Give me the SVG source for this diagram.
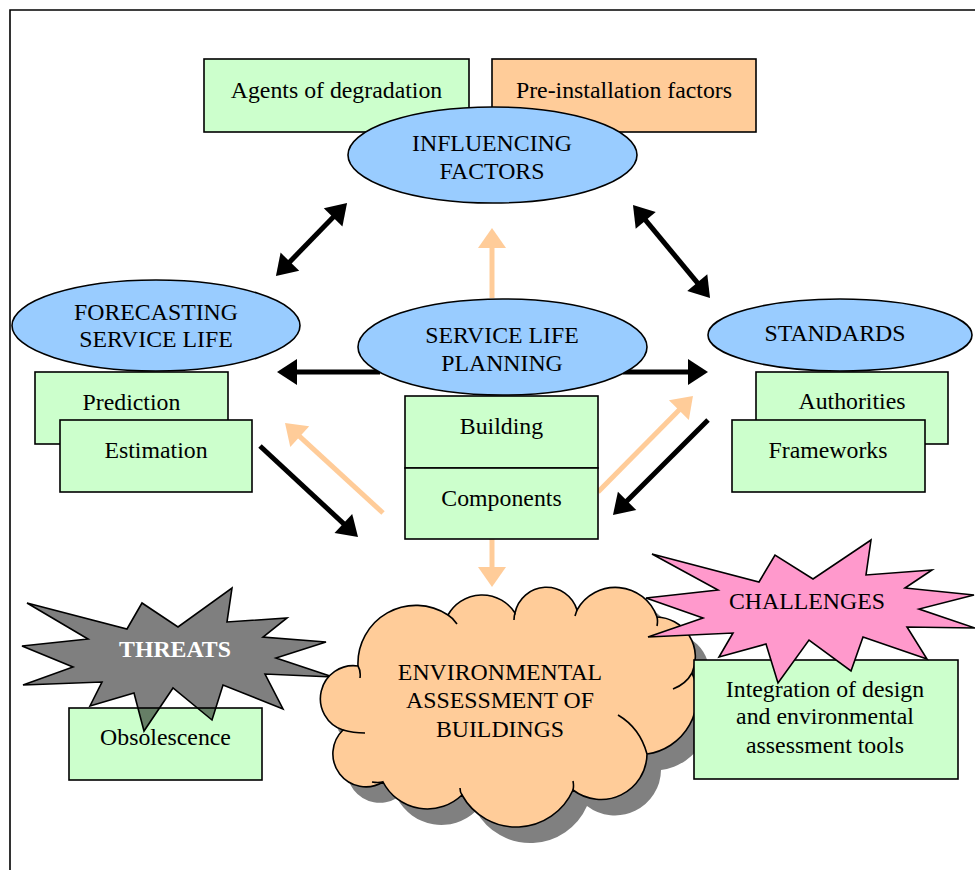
<svg xmlns="http://www.w3.org/2000/svg" xmlns:xlink="http://www.w3.org/1999/xlink" width="975" height="870" viewBox="0 0 975 870">
<style>
text{font-family:"Liberation Serif","Times New Roman",serif;font-size:23.8px;fill:#000;text-anchor:middle}
.box{fill:#CCFFCC;stroke:#000;stroke-width:1.6}
.ell{fill:#99CCFF;stroke:#000;stroke-width:1.6}
.blk{stroke:#000;stroke-width:5;fill:none}
.org{stroke:#FFCC99;stroke-width:5;fill:none}
</style>
<defs>
<marker id="hB" markerUnits="userSpaceOnUse" markerWidth="22" markerHeight="28" viewBox="0 -14 22 28" refX="1" refY="0" orient="auto-start-reverse" overflow="visible"><path d="M0,-13 L20,0 L0,13 z" fill="#000"/></marker>
<marker id="hO" markerUnits="userSpaceOnUse" markerWidth="22" markerHeight="30" viewBox="0 -15 22 30" refX="1" refY="0" orient="auto-start-reverse" overflow="visible"><path d="M0,-14 L20,0 L0,14 z" fill="#FFCC99"/></marker>
<path id="cloud" d="M358,666 A58,58 0 0 1 448,615 A39,39 0 0 1 515,613 A32,32 0 0 1 577,610 A44,44 0 0 1 657,617 A40,40 0 0 1 692,673 A58,58 0 0 1 647,754 A46,46 0 0 1 573,790 A62,62 0 0 1 462,795 A50,50 0 0 1 383,782 A33,33 0 0 1 343,730 A33,33 0 0 1 358,666 Z"/>
</defs>
<rect width="975" height="870" fill="#fff"/>
<path d="M10,870 L10,10 L975,10" fill="none" stroke="#000" stroke-width="1.6"/>

<g id="connectors">
<path class="blk" d="M333.8,216.6 L289.2,262.4" marker-start="url(#hB)" marker-end="url(#hB)"/>
<path class="blk" d="M645.1,219.6 L697.9,283.4" marker-start="url(#hB)" marker-end="url(#hB)"/>
<path class="blk" d="M380,372 L296,372" marker-end="url(#hB)"/>
<path class="blk" d="M623,372 L689,372" marker-end="url(#hB)"/>
<path class="org" d="M383,513 L299,435.9" marker-end="url(#hO)"/>
<path class="blk" d="M260,446 L344.1,524.1" marker-end="url(#hB)"/>
<path class="org" d="M598,492 L679.6,409.5" marker-end="url(#hO)"/>
<path class="blk" d="M708,420 L626.4,501.6" marker-end="url(#hB)"/>
<path class="org" d="M492,298 L492,247" marker-end="url(#hO)"/>
<path class="org" d="M492,539 L492,568" marker-end="url(#hO)"/>
</g>

<g id="agents"><rect class="box" x="204" y="59" width="265" height="73"/><text x="336.5" y="98">Agents of degradation</text></g>
<g id="preinstallation"><rect x="492" y="59" width="264" height="73" fill="#FFCC99" stroke="#000" stroke-width="1.6"/><text x="624" y="98">Pre-installation factors</text></g>
<g id="influencing"><ellipse class="ell" cx="492.5" cy="155" rx="144.5" ry="48"/><text x="492" y="151">INFLUENCING</text><text x="492" y="179">FACTORS</text></g>

<g id="prediction"><rect class="box" x="35" y="372" width="193" height="72"/><text x="131.5" y="410">Prediction</text></g>
<g id="estimation"><rect class="box" x="60" y="420" width="192" height="72"/><text x="156" y="458">Estimation</text></g>
<g id="forecasting"><ellipse class="ell" cx="156" cy="325.5" rx="144" ry="45.5"/><text x="156" y="320">FORECASTING</text><text x="156" y="347">SERVICE LIFE</text></g>

<g id="servicelife"><ellipse class="ell" cx="502.5" cy="347" rx="144.5" ry="48"/><text x="502" y="343">SERVICE LIFE</text><text x="502" y="371">PLANNING</text></g>
<g id="building"><rect class="box" x="405" y="396" width="193" height="72"/><text x="501.5" y="434">Building</text></g>
<g id="components"><rect class="box" x="405" y="468" width="193" height="71"/><text x="501.5" y="506">Components</text></g>

<g id="authorities"><rect class="box" x="756" y="372" width="192" height="72"/><text x="852" y="409">Authorities</text></g>
<g id="frameworks"><rect class="box" x="732" y="420" width="193" height="72"/><text x="828" y="458">Frameworks</text></g>
<g id="standards"><ellipse class="ell" cx="840" cy="335" rx="132" ry="36"/><text x="835" y="341">STANDARDS</text></g>

<g id="obsolescence"><rect class="box" x="69" y="708" width="193" height="72"/><text x="165.5" y="745">Obsolescence</text></g>
<g id="threats"><polygon points="27,603 127,629 142,603 178,627 232,588 227,622 287,618 263,637 326,642 276,658 333,677 265,674 283,709 223,685 212,720 173,688 144,731 134,693 90,706 102,682 23,685 73,667 22,646 88,639" fill="#000" fill-opacity="0.5" stroke="#000" stroke-width="1.6" stroke-linejoin="miter"/><text x="175" y="657" style="font-weight:bold;fill:#fff">THREATS</text></g>

<g id="environmental">
<use xlink:href="#cloud" href="#cloud" transform="translate(14,16)" fill="#808080"/>
<use xlink:href="#cloud" href="#cloud" fill="#FFCC99" stroke="#000" stroke-width="1.6"/>
<path d="M358,666 Q361,671 360,678 M448,615 Q453,618 457,624 M515,613 Q514,616 514,620 M577,610 Q576,613 575,616 M657,617 Q658,621 657,626 M692,673 Q686,684 673,689 M647,754 Q640,728 618,715 M573,790 Q574,786 573,781 M462,795 Q460,792 460,788 M383,782 Q378,783 372,782 M343,730 Q353,733 365,733" fill="none" stroke="#000" stroke-width="1.6"/>
<text x="500" y="680">ENVIRONMENTAL</text><text x="500" y="708">ASSESSMENT OF</text><text x="500" y="737">BUILDINGS</text>
</g>

<g id="integration"><rect class="box" x="694" y="660" width="264" height="119"/><text x="825" y="697">Integration of design</text><text x="825" y="724">and environmental</text><text x="825" y="753">assessment tools</text></g>
<g id="challenges"><polygon points="652,554 759,582 775,555 813,579 871,540 866,575 932,570 905,588 974,595 919,609 975,628 907,627 927,659 863,637 851,671 809,640 778,683 766,644 719,657 733,633 648,637 703,618 646,598 718,590" fill="#FF99CC" stroke="#000" stroke-width="1.6"/><text x="807" y="609">CHALLENGES</text></g>
</svg>
